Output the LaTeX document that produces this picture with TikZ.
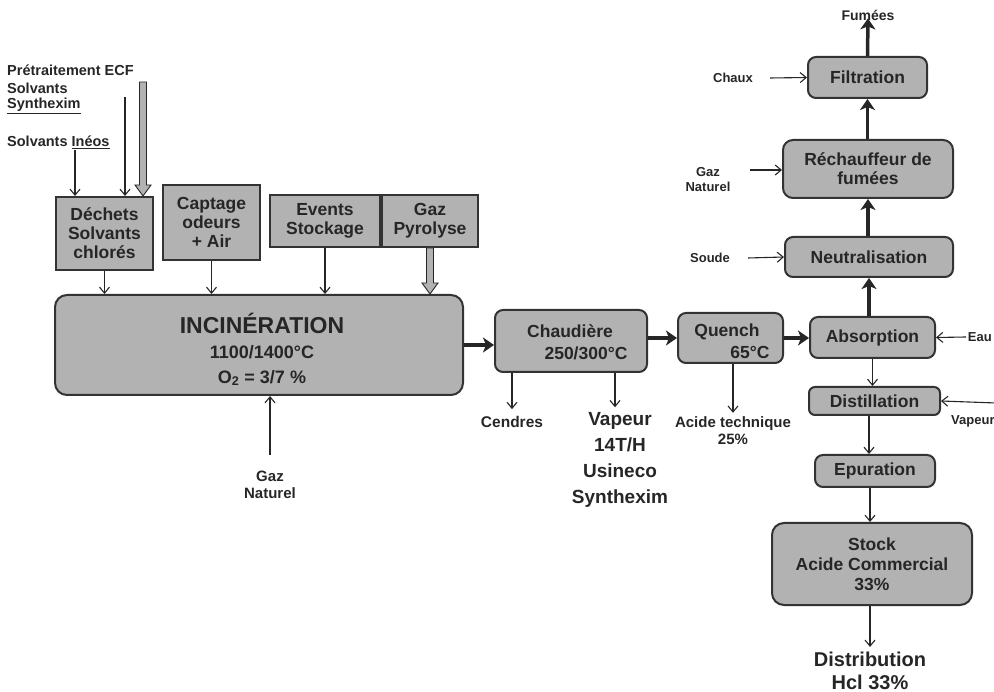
\documentclass[tikz,border=0pt]{standalone}
\usepackage{fontspec}
\setmainfont{Liberation Sans}
\usetikzlibrary{arrows.meta,calc}
\newcommand\fs[2]{\fontsize{#1}{#2}\selectfont}
\newcommand\fatdown[2]{%
  \draw[fill=black!30, draw=black!85, line width=0.9pt] let \p1=(#1), \p2=(#2) in
   (\x1-3.5pt,\y1) -- (\x1-3.5pt,\y2+11pt) -- (\x1-8pt,\y2+11pt) -- (\x1,\y2)
   -- (\x1+8pt,\y2+11pt) -- (\x1+3.5pt,\y2+11pt) -- (\x1+3.5pt,\y1) -- cycle;}
\tikzset{
  box/.style={draw=black!80, line width=2pt, fill=black!30, text=black!85,
    font=\bfseries\fs{17.5}{19}, align=center, inner sep=0pt},
  rbox/.style={box, rounded corners=8pt},
  lbl/.style={font=\bfseries\fs{13}{15}, text=black!85, align=center, inner sep=1pt},
  thinar/.style={draw=black!85, line width=1.1pt, -{Straight Barb[length=6pt,width=10pt]}},
  thickar/.style={draw=black!85, line width=3.5pt, -{Stealth[length=11pt,width=15pt,inset=3pt]}},
}
\begin{document}
\begin{tikzpicture}[x=1pt,y=-1pt]
\useasboundingbox (0,0) rectangle (994,692);
% left labels
\node[lbl, anchor=west, font=\bfseries\fs{14.5}{16}] (pre) at (6,70) {Prétraitement ECF};
\node[lbl, anchor=west, font=\bfseries\fs{14.5}{16}] (solv) at (6,88) {Solvants};
\node[lbl, anchor=west, font=\bfseries\fs{14.5}{16}] (synth) at (6,106) {\underline{Synthexim}};
\node[lbl, anchor=west, font=\bfseries\fs{14.5}{16}] (ineos) at (6,142) {Solvants \underline{Inéos}};
% top boxes
\node[box, minimum width=97pt, minimum height=73pt] (dech) at (104.5,233.5) {Déchets\\Solvants\\chlorés};
\node[box, minimum width=97pt, minimum height=75pt] (capt) at (211.5,222.5) {Captage\\odeurs\\+ Air};
\node[box, minimum width=110pt, minimum height=52pt] (evts) at (325,221) {Events\\Stockage};
\node[box, minimum width=96pt, minimum height=52pt] (gpyr) at (430,221) {Gaz\\Pyrolyse};
% incineration
\node[box, rounded corners=12pt, minimum width=408pt, minimum height=100pt] (inc) at (259,345) {};
\node[font=\bfseries\fs{23}{26}, text=black!85] (inct) at (262,323) {INCINÉRATION};
\node[font=\bfseries\fs{18}{20}, text=black!85] (inct2) at (262,352) {1100/1400°C};
\node[font=\bfseries\fs{18}{20}, text=black!85] (inct3) at (262,378) {O\textsubscript{2} = 3/7 \%};
% chain
\node[rbox, minimum width=152pt, minimum height=62pt] (chau) at (571,341) {};
\node[font=\bfseries\fs{17.5}{19}, text=black!85] (chau1) at (570,331) {Chaudière};
\node[font=\bfseries\fs{17.5}{19}, text=black!85] (chau2) at (586,353) {250/300°C};
\node[rbox, minimum width=105pt, minimum height=50pt] (quen) at (730.5,338) {};
\node[font=\bfseries\fs{17.5}{19}, text=black!85] (quen1) at (727,332) {Quench};
\node[font=\bfseries\fs{17.5}{19}, text=black!85] (quen2) at (750,352) {65°C};
\node[rbox, minimum width=125pt, minimum height=41pt] (abso) at (872.5,337.5) {Absorption};
\node[rbox, rounded corners=6pt, minimum width=131pt, minimum height=28pt] (dist) at (874.5,401) {Distillation};
\node[rbox, minimum width=120pt, minimum height=32pt] (epur) at (875,471) {Epuration};
\node[rbox, rounded corners=12pt, minimum width=200pt, minimum height=82pt, font=\bfseries\fs{17.5}{20}] (stock) at (872,564) {Stock\\Acide Commercial\\33\%};
\node[rbox, minimum width=168pt, minimum height=40pt] (neut) at (869,257) {Neutralisation};
\node[rbox, rounded corners=10pt, minimum width=170pt, minimum height=58pt] (rech) at (868,169) {Réchauffeur de\\fumées};
\node[rbox, minimum width=119pt, minimum height=41pt] (filt) at (867.5,77.5) {Filtration};
% output labels
\node[lbl, font=\bfseries\fs{14}{16}] (fum) at (868,15) {Fumées};
\node[lbl] (chaux) at (733,78) {Chaux};
\node[lbl] (gnr) at (708,180) {Gaz\\Naturel};
\node[lbl] (soude) at (710,258) {Soude};
\node[lbl, anchor=east] (eau) at (993,337) {Eau};
\node[lbl, anchor=west] (vapr) at (950,421) {Vapeur};
\node[lbl, font=\bfseries\fs{15.5}{17}] (cend) at (512,422) {Cendres};
\node[lbl, font=\bfseries\fs{19}{26}] (vap) at (620,460) {Vapeur\\14T/H\\Usineco\\Synthexim};
\node[lbl, font=\bfseries\fs{15}{17}] (acid) at (733,431) {Acide technique\\25\%};
\node[lbl, font=\bfseries\fs{15}{17}] (gni) at (270,485) {Gaz\\Naturel};
\node[lbl, font=\bfseries\fs{20}{23}] (distr) at (870,671) {Distribution\\Hcl 33\%};
% coordinates
\coordinate (sinA) at (75,150);
\coordinate (sinB) at (125,97);
\coordinate (sinC) at (143,82);
\coordinate (gnin) at (270,455);
\coordinate (eauin) at (966,337);
\coordinate (vapin) at (996,403);
\coordinate (chin) at (770,78);
\coordinate (gnrin) at (750,170);
\coordinate (soin) at (748,258);
% arrows into dechets
\draw[thinar] (sinA) -- (sinA |- dech.north);
\draw[thinar] (sinB) -- (sinB |- dech.north);
\fatdown{sinC}{sinC |- dech.north}
% into incineration
\draw[thinar] (dech.south) -- (dech.south |- inc.north);
\draw[thinar] (capt.south) -- (capt.south |- inc.north);
\draw[thinar] (evts.south) -- (evts.south |- inc.north);
\fatdown{gpyr.south}{gpyr.south |- inc.north}
\draw[thinar] (gnin) -- (gnin |- inc.south);
% main flow
\draw[thickar] (inc.east) -- (inc.east -| chau.west);
\draw[thickar] (quen.west -| chau.east) -- (quen.west);
\draw[thickar] (quen.east) -- (quen.east -| abso.west);
% outputs down
\draw[thinar] (cend.north |- chau.south) -- ([yshift=6pt]cend.north);
\draw[thinar] ([xshift=-5pt]vap.north |- chau.south) -- ([xshift=-5pt,yshift=4pt]vap.north);
\draw[thinar] (acid.north |- quen.south) -- ([yshift=3pt]acid.north);
% right column down
\draw[thinar] (abso.south) -- (abso.south |- dist.north);
\draw[thinar] (dist.south -| epur.north) ++(-6pt,0) -- ([xshift=-6pt]epur.north);
\draw[thinar] (epur.south -| stock.north) ++(-2pt,0) -- ([xshift=-2pt]stock.north);
\draw[thinar] ([xshift=-2pt]stock.south) -- ([xshift=-2pt,yshift=4pt]stock.south |- distr.north);
\draw[thinar] (eauin) -- (abso.east);
\draw[thinar] (vapin) -- (dist.east);
% right column up
\draw[thickar] (abso.north -| neut.south) -- (neut.south);
\draw[thickar] (neut.north -| rech.south) -- (rech.south);
\draw[thickar] (rech.north -| filt.south) -- (filt.south);
\draw[thickar] (filt.north) -- ([yshift=3pt]fum.south);
\draw[thinar] (chin) -- (filt.west);
\draw[thinar] (gnrin) -- (gnrin -| rech.west);
\draw[thinar] (soin) -- (neut.west);
\end{tikzpicture}
\end{document}
